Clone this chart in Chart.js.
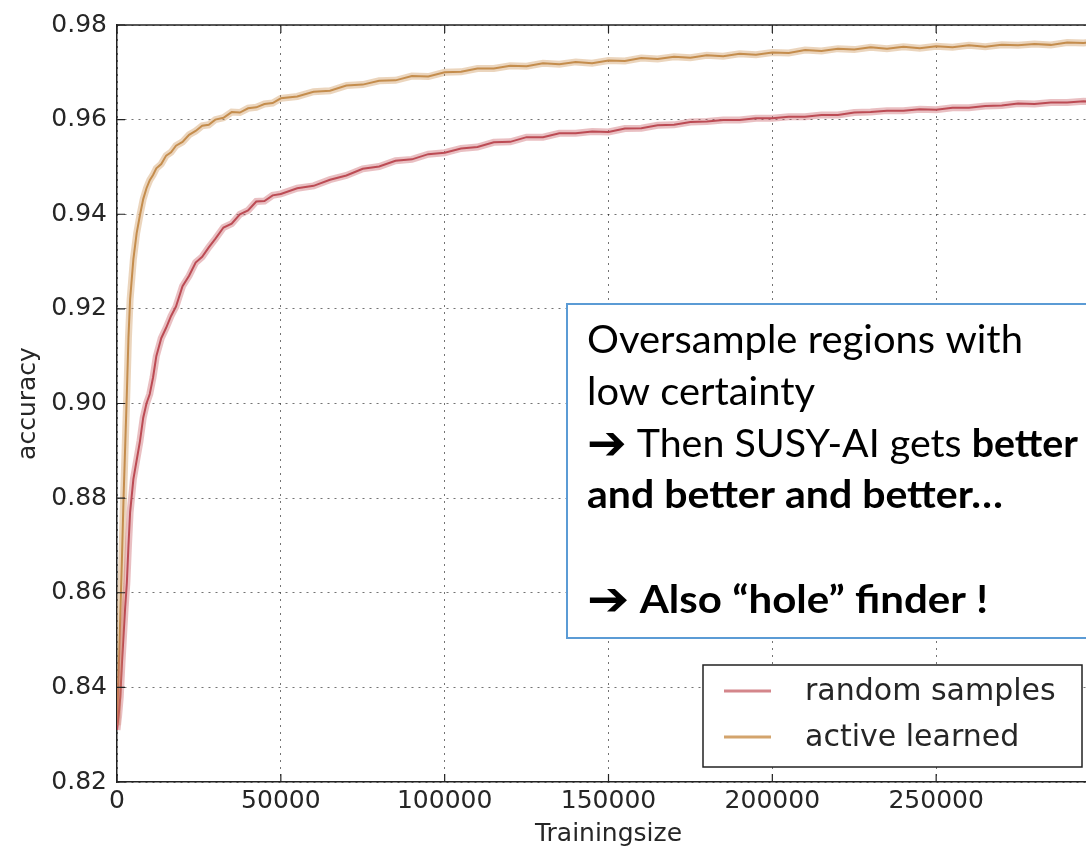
<!DOCTYPE html>
<html>
<head>
<meta charset="utf-8">
<title>SUSY-AI accuracy</title>
<script src="https://cdn.jsdelivr.net/npm/chart.js@4.4.0/dist/chart.umd.min.js"></script>
<style>
  html, body { margin: 0; padding: 0; background: #fff; overflow: hidden; }
  #wrap { width: 1086px; height: 849px; overflow: hidden; }
  canvas { display: block; }
</style>
</head>
<body>
<div id="wrap"><canvas id="grafica" width="1120" height="849"></canvas></div>
<script>
// Datos
const trainingSize = [
  0, 500, 1000, 1500, 2000, 2500, 3000, 3500, 4000, 5000,
  6000, 7000, 8000, 9000, 10000, 11000, 12000, 13500, 15000, 16500,
  18000, 20000, 22000, 24000, 26000, 28000, 30000, 32500, 35000, 37500,
  40000, 42500, 45000, 47500, 50000, 55000, 60000, 65000, 70000, 75000,
  80000, 85000, 90000, 95000, 100000, 105000, 110000, 115000, 120000, 125000,
  130000, 135000, 140000, 145000, 150000, 155000, 160000, 165000, 170000, 175000,
  180000, 185000, 190000, 195000, 200000, 205000, 210000, 215000, 220000, 225000,
  230000, 235000, 240000, 245000, 250000, 255000, 260000, 265000, 270000, 275000,
  280000, 285000, 290000, 295000, 300000
];
const randomAcc = [
  0.831, 0.834, 0.838, 0.845, 0.851, 0.857, 0.862, 0.870, 0.877, 0.884,
  0.888, 0.892, 0.897, 0.900, 0.902, 0.9055, 0.910, 0.9138, 0.9160, 0.9185,
  0.9205, 0.9248, 0.9270, 0.9298, 0.9310, 0.9330, 0.9348, 0.9372, 0.9380, 0.9400,
  0.9408, 0.9427, 0.9428, 0.9440, 0.9443, 0.9455, 0.9460, 0.9473, 0.9482, 0.9496,
  0.9501, 0.9513, 0.9516, 0.9527, 0.9530, 0.9539, 0.9542, 0.9552, 0.9553, 0.9563,
  0.9563, 0.9571, 0.9571, 0.9575, 0.9574, 0.9581, 0.9582, 0.9588, 0.9589, 0.9595,
  0.9596, 0.9599, 0.9599, 0.9603, 0.9603, 0.9606, 0.9606, 0.9610, 0.9610, 0.9615,
  0.9616, 0.9619, 0.9619, 0.9622, 0.9621, 0.9625, 0.9625, 0.9629, 0.9630, 0.9634,
  0.9633, 0.9636, 0.9636, 0.9639, 0.9637
];
const activeAcc = [
  0.832, 0.843, 0.855, 0.867, 0.880, 0.891, 0.902, 0.914, 0.922, 0.9305,
  0.9360, 0.9398, 0.9432, 0.9455, 0.9472, 0.9483, 0.9497, 0.9506, 0.9524, 0.9531,
  0.9545, 0.9553, 0.9568, 0.9576, 0.9587, 0.9589, 0.9600, 0.9604, 0.9616, 0.9615,
  0.9624, 0.9626, 0.9633, 0.9635, 0.9645, 0.9649, 0.9659, 0.9661, 0.9672, 0.9674,
  0.9682, 0.9683, 0.9692, 0.9691, 0.9700, 0.9701, 0.9708, 0.9708, 0.9714, 0.9713,
  0.9719, 0.9717, 0.9722, 0.9719, 0.9725, 0.9724, 0.9730, 0.9728, 0.9733, 0.9731,
  0.9736, 0.9734, 0.9739, 0.9737, 0.9742, 0.9741, 0.9747, 0.9745, 0.9750, 0.9748,
  0.9753, 0.9750, 0.9754, 0.9751, 0.9755, 0.9753, 0.9757, 0.9754, 0.9758, 0.9757,
  0.9760, 0.9758, 0.9763, 0.9762, 0.9766
];
const xTicks = [0, 50000, 100000, 150000, 200000, 250000, 300000];
const yTicks = [0.82, 0.84, 0.86, 0.88, 0.90, 0.92, 0.94, 0.96, 0.98];
const seriesLabels = ['random samples', 'active learned'];

const tickFont = { family: 'DejaVu Sans', size: 25 };
const tickColor = '#262626';

function puntos(valores) {
    return trainingSize.map((x, i) => ({ x: x, y: valores[i] }));
}

// Marco y marcas de los ejes hacia adentro (estilo matplotlib)
const marcoPlugin = {
    id: 'marco',
    afterDatasetsDraw(chart) {
        const { ctx, chartArea: a, scales } = chart;
        ctx.save();
        ctx.strokeStyle = '#222';
        ctx.lineWidth = 1.5;
        ctx.beginPath();
        ctx.moveTo(a.left, a.top);
        ctx.lineTo(a.right, a.top);
        ctx.lineTo(a.right, a.bottom);
        ctx.stroke();
        ctx.lineWidth = 1.2;
        yTicks.forEach(v => {
            const py = scales.y.getPixelForValue(v);
            ctx.beginPath();
            ctx.moveTo(a.left, py); ctx.lineTo(a.left + 8, py);
            ctx.moveTo(a.right, py); ctx.lineTo(a.right - 8, py);
            ctx.stroke();
        });
        xTicks.forEach(v => {
            const px = scales.x.getPixelForValue(v);
            ctx.beginPath();
            ctx.moveTo(px, a.bottom); ctx.lineTo(px, a.bottom - 8);
            ctx.moveTo(px, a.top); ctx.lineTo(px, a.top + 8);
            ctx.stroke();
        });
        ctx.restore();
    }
};

// Leyenda en la esquina inferior derecha
const leyendaPlugin = {
    id: 'leyenda',
    afterDraw(chart) {
        const ctx = chart.ctx;
        const items = chart.data.datasets.filter(ds => !ds.band);
        const x0 = 703, y0 = 665, w = 379, h = 102;
        ctx.save();
        ctx.fillStyle = '#fff';
        ctx.fillRect(x0, y0, w, h);
        ctx.strokeStyle = '#222';
        ctx.lineWidth = 1.5;
        ctx.strokeRect(x0, y0, w, h);
        ctx.font = '30px "DejaVu Sans"';
        ctx.textBaseline = 'middle';
        items.forEach((ds, i) => {
            const yy = y0 + 26 + i * 46;
            ctx.strokeStyle = ds.legendColor;
            ctx.lineWidth = 3;
            ctx.beginPath();
            ctx.moveTo(x0 + 21, yy); ctx.lineTo(x0 + 68, yy);
            ctx.stroke();
            ctx.fillStyle = '#262626';
            ctx.fillText(ds.label, x0 + 102, yy + 1);
        });
        ctx.restore();
    }
};

// Cuadro de texto superpuesto
const cuadroPlugin = {
    id: 'cuadro',
    afterDraw(chart) {
        const ctx = chart.ctx;
        ctx.save();
        ctx.fillStyle = '#fff';
        ctx.fillRect(567, 304, 560, 334);
        ctx.strokeStyle = '#5b9bd5';
        ctx.lineWidth = 2;
        ctx.strokeRect(567, 304, 560, 334);

        // Lato en lugar de Calibri: mismo alto, cada línea ajustada a su ancho
        const size = 39;
        const lineas = [
            { y: 353, w: 436, runs: [{ t: 'Oversample regions with' }] },
            { y: 405, w: 228, runs: [{ t: 'low certainty' }] },
            { y: 457, w: 491, runs: [{ t: '\u2794', arrow: true }, { t: ' Then SUSY-AI gets ' }, { t: 'better', b: true }] },
            { y: 508, w: 416, runs: [{ t: 'and better and better\u2026', b: true }] },
            { y: 613, w: 401, runs: [{ t: '\u2794', arrow: true }, { t: ' Also \u201chole\u201d finder !', b: true }] }
        ];
        const fuente = r => r.arrow ? 'bold ' + Math.round(size * 1.2) + 'px "DejaVu Sans"'
                                    : (r.b ? 'bold ' : '') + size + 'px Lato';
        ctx.fillStyle = '#000';
        ctx.textBaseline = 'alphabetic';
        lineas.forEach(l => {
            let total = 0;
            l.runs.forEach(r => { ctx.font = fuente(r); total += ctx.measureText(r.t).width; });
            ctx.save();
            ctx.translate(587, l.y);
            ctx.scale(l.w / total, 1);
            let x = 0;
            l.runs.forEach(r => {
                ctx.font = fuente(r);
                ctx.fillText(r.t, x, r.arrow ? 2 : 0);
                x += ctx.measureText(r.t).width;
            });
            ctx.restore();
        });
        ctx.restore();
    }
};

const ctxGrafica = document.getElementById('grafica').getContext('2d');
new Chart(ctxGrafica, {
    type: 'line',
    data: {
        datasets: [
            { label: seriesLabels[0], band: true, data: puntos(randomAcc), borderColor: 'rgba(200, 95, 102, 0.40)', borderWidth: 7 },
            { label: seriesLabels[1], band: true, data: puntos(activeAcc), borderColor: 'rgba(205, 150, 90, 0.40)', borderWidth: 7 },
            { label: seriesLabels[0], data: puntos(randomAcc), borderColor: '#b43f48', borderWidth: 2, legendColor: '#d4868b' },
            { label: seriesLabels[1], data: puntos(activeAcc), borderColor: '#bf8745', borderWidth: 2, legendColor: '#d3a46c' }
        ]
    },
    options: {
        responsive: false,
        devicePixelRatio: 1,
        animation: false,
        elements: { point: { radius: 0 }, line: { tension: 0, fill: false } },
        layout: { padding: { top: 22, right: 20, left: 0, bottom: 0 } },
        plugins: { legend: { display: false }, tooltip: { enabled: false } },
        scales: {
            x: {
                type: 'linear',
                min: 0, max: 300000,
                afterBuildTicks: s => { s.ticks = xTicks.map(v => ({ value: v })); },
                afterFit: s => { s.height = 67; },
                ticks: {
                    font: tickFont, color: tickColor, padding: 4, maxRotation: 0,
                    callback: v => (v === 300000 ? '' : String(v))
                },
                grid: { color: 'rgba(0,0,0,0.55)', lineWidth: 1, drawTicks: false },
                border: { display: true, color: '#222', width: 1.5, dash: [2, 5] },
                title: { display: true, text: 'Trainingsize', font: tickFont, color: tickColor, padding: { top: 0, bottom: 0 } }
            },
            y: {
                min: 0.82, max: 0.98,
                afterBuildTicks: s => { s.ticks = yTicks.map(v => ({ value: v })); },
                afterFit: s => { s.width = 117; },
                ticks: { font: tickFont, color: tickColor, padding: 10, callback: v => v.toFixed(2) },
                grid: { color: 'rgba(0,0,0,0.55)', lineWidth: 1, drawTicks: false },
                border: { display: true, color: '#222', width: 1.5, dash: [2, 5] },
                title: { display: true, text: 'accuracy', font: tickFont, color: tickColor, padding: { top: 13, bottom: 0 } }
            }
        }
    },
    plugins: [marcoPlugin, cuadroPlugin, leyendaPlugin]
});
</script>
</body>
</html>
